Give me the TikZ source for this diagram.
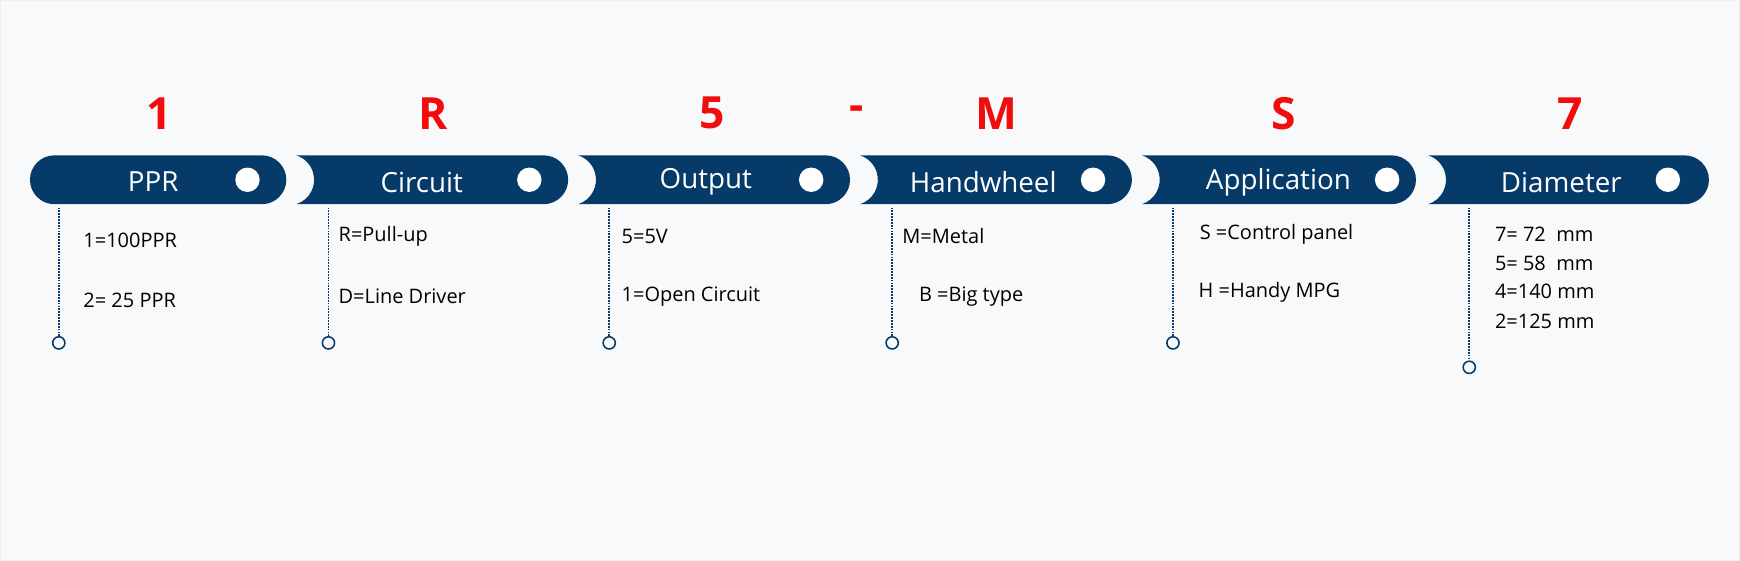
\documentclass[tikz,border=0pt]{standalone}
\usepackage{fontspec}
\setmainfont{Open Sans}
\definecolor{bg}{HTML}{F8F9FA}
\definecolor{navy}{HTML}{053A69}
\definecolor{codered}{HTML}{F20D0D}
\begin{document}
\begin{tikzpicture}[x=1pt,y=1pt,
  code/.style={text=codered,font=\fontsize{40}{44}\selectfont\bfseries},
  head/.style={text=white,font=\fontsize{25}{28}\selectfont},
  item/.style={anchor=west,text=black,font=\fontsize{18}{20}\selectfont,inner sep=0},
  leader/.style={navy,densely dotted,line width=1.6pt},
  endc/.style={draw=navy,line width=1.4pt,fill=bg,circle,inner sep=0,minimum size=11pt}]
\fill[bg] (0,0) rectangle (1568,505);
\draw[black!6] (0.5,0.5) rectangle (1567.5,504.5);
% first pill
\fill[navy] (49,365) -- (236,365) arc[start angle=90,end angle=-90,radius=22] -- (49,321) arc[start angle=270,end angle=90,radius=22] -- cycle;
\foreach \L/\R in {267/512,521/766,775/1020,1029/1276,1287/1540}{
  \fill[navy] (\L,365) -- ({\R-22},365) arc[start angle=90,end angle=-90,radius=22] -- (\L,321) arc[start angle=-72.3,end angle=72.3,radius=23.1] -- cycle;}
\foreach \x in {223,477,731,985,1250,1503}{\fill[white] (\x,343) circle (11);}
\node[head] (h1) at (138,341) {PPR};
\node[head] (h2) at (380,341) {Circuit};
\node[head] (h3) at (636,341) {Output};
\node[head] (h4) at (886,341) {Handwheel};
\node[head] (h5) at (1152,341) {Application};
\node[head] (h6) at (1407,341) {Diameter};
\node[code] (c1) at (143,403) {1};
\node[code] (c2) at (390,403) {R};
\node[code] (c3) at (642,403) {5};
\node[code] (c4) at (772,403) {-};
\node[code] (c5) at (898,403) {M};
\node[code] (c6) at (1157,403) {S};
\node[code] (c7) at (1415,403) {7};
\foreach \i/\x/\y in {1/53/196,2/296/196,3/549/196,4/804/196,5/1057/196,6/1324/174}{
  \node[endc] (e\i) at (\x,\y) {};
  \coordinate (t\i) at (\x,318);
  \draw[leader] (t\i) -- (e\i.north);}
\node[item] (a1) at (75,288) {1=100PPR};
\node[item] (a2) at (75,234) {2= 25 PPR};
\node[item] (b1) at (305,292) {R=Pull-up};
\node[item] (b2) at (305,238) {D=Line Driver};
\node[item] (d1) at (560,292) {5=5V};
\node[item] (d2) at (560,238) {1=Open Circuit};
\node[item] (f1) at (813,292) {M=Metal};
\node[item] (f2) at (828,238) {B =Big type};
\node[item] (g1) at (1081,294) {S =Control panel};
\node[item] (g2) at (1080,242) {H =Handy MPG};
\node[item] (k1) at (1347,294) {7= 72\ \ mm};
\node[item] (k2) at (1347,268) {5= 58\ \ mm};
\node[item] (k3) at (1347,242) {4=140 mm};
\node[item] (k4) at (1347,215) {2=125 mm};
\end{tikzpicture}
\end{document}
